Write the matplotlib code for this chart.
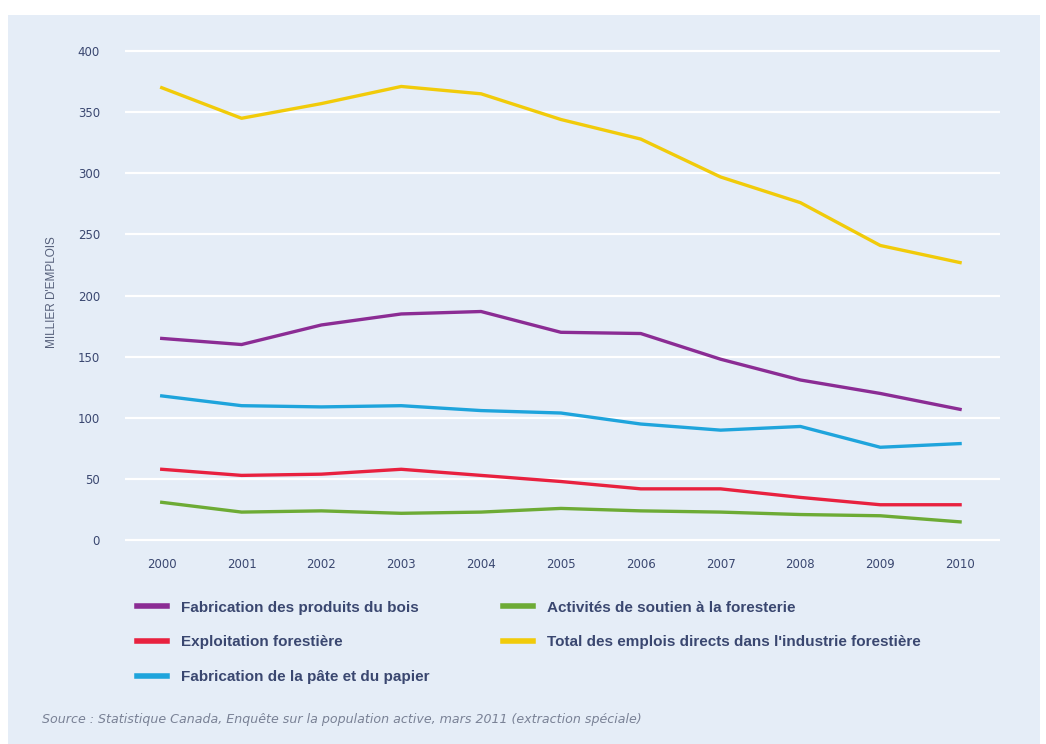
import matplotlib
matplotlib.use("Agg")
import matplotlib.pyplot as plt
from matplotlib.patches import Rectangle

years = [2000, 2001, 2002, 2003, 2004, 2005, 2006, 2007, 2008, 2009, 2010]
produits_bois = [165, 160, 176, 185, 187, 170, 169, 148, 131, 120, 107]
exploitation = [58, 53, 54, 58, 53, 48, 42, 42, 35, 29, 29]
pate_papier = [118, 110, 109, 110, 106, 104, 95, 90, 93, 76, 79]
soutien = [31, 23, 24, 22, 23, 26, 24, 23, 21, 20, 15]
total = [370, 345, 357, 371, 365, 344, 328, 297, 276, 241, 227]

labels = [
    "Fabrication des produits du bois",
    "Exploitation forestière",
    "Fabrication de la pâte et du papier",
    "Activités de soutien à la foresterie",
    "Total des emplois directs dans l'industrie forestière",
]
y_ticks = [0, 50, 100, 150, 200, 250, 300, 350, 400]

NAVY = "#3a4770"
BG = "#e5edf7"

fig = plt.figure(figsize=(10.46, 7.44), dpi=100, facecolor="white")
fig.patches.append(Rectangle((8 / 1046, 0), 1032 / 1046, 1 - 15 / 744,
                             transform=fig.transFigure, facecolor=BG,
                             edgecolor="none", zorder=-10))

ax = fig.add_axes([125 / 1046, 1 - 550 / 744, 875 / 1046, 510 / 744])
ax.set_facecolor("none")

series = [produits_bois, exploitation, pate_papier, soutien, total]
colors = ["#8b2c94", "#e8213f", "#1ea4dc", "#6dab35", "#f1cb0a"]
for vals, col, lab in zip(series, colors, labels):
    ax.plot(years, vals, color=col, lw=2.4, label=lab, zorder=3)

ax.set_xlim(1999.54, 2010.5)
ax.set_ylim(-8, 409)
ax.set_yticks(y_ticks)
ax.set_xticks(years)
ax.grid(axis="y", color="white", lw=1.6, zorder=1)
ax.set_axisbelow(True)
for s in ax.spines.values():
    s.set_visible(False)
ax.tick_params(length=0, labelsize=8.5, labelcolor=NAVY)
ax.tick_params(axis="y", pad=18)
ax.tick_params(axis="x", pad=6)

fig.text(52 / 1046, 1 - 292 / 744, "MILLIER D'EMPLOIS", rotation=90,
         fontsize=8.5, color="#555f7a", ha="center", va="center",
         family=["Liberation Sans", "DejaVu Sans"])

handles, labs = ax.get_legend_handles_labels()
leg = fig.legend(handles, labs, ncol=2, loc="upper left",
                 bbox_to_anchor=(123 / 1046, 1 - 587 / 744), frameon=False,
                 handlelength=2.0, handletextpad=0.9, columnspacing=4.8,
                 labelspacing=1.35,
                 prop={"family": ["Liberation Sans", "DejaVu Sans"],
                       "weight": "bold", "size": 11})
for t in leg.get_texts():
    t.set_color(NAVY)
for ln in leg.get_lines():
    ln.set_linewidth(4)

fig.text(42 / 1046, 1 - 719 / 744,
         "Source : Statistique Canada, Enquête sur la population active, mars 2011 (extraction spéciale)",
         fontsize=9.1, style="italic", color="#7a8296", ha="left", va="center")

fig.savefig("out.png", dpi=100, facecolor="white")
